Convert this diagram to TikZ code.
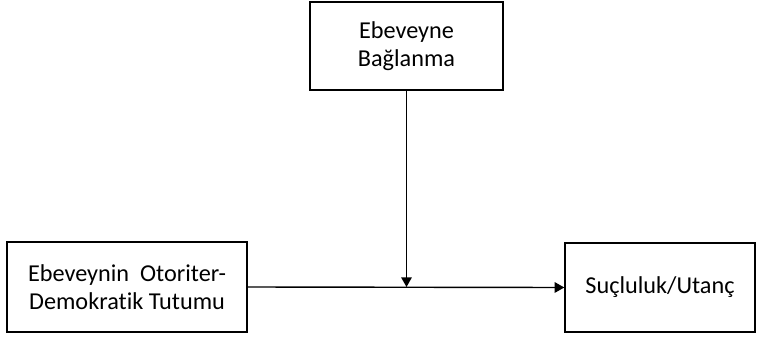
\documentclass[tikz,border=0pt]{standalone}
\usepackage{fontspec}
\setmainfont{Carlito}[Ligatures=NoCommon]
\usetikzlibrary{arrows.meta}
\begin{document}
\begin{tikzpicture}[
  kutu/.style={draw, line width=0.8pt, align=center, font=\fontsize{13.8}{15.9}\selectfont},
  ok/.style={line width=0.8pt, -{Triangle[length=5.5pt,width=6pt]}}
]
\useasboundingbox (0,0) rectangle (15.16,6.78);
\node [kutu, minimum width=3.86cm, minimum height=1.76cm] (baglanma) at (8.13,5.86) {Ebeveyne\\Bağlanma};
\node [kutu, minimum width=4.8cm, minimum height=1.8cm] (tutum) at (2.54,1.04) {Ebeveynin\ \ Otoriter-\\Demokratik Tutumu};
\node [kutu, minimum width=3.8cm, minimum height=1.78cm] (sucluluk) at (13.2,1.03) {Suçluluk/Utanç};
\coordinate (kesisim) at (8.13,1.04);

\draw [ok] (tutum.east) -- (sucluluk.west);
\draw [ok] (baglanma.south) -- (kesisim);
\end{tikzpicture}
\end{document}
